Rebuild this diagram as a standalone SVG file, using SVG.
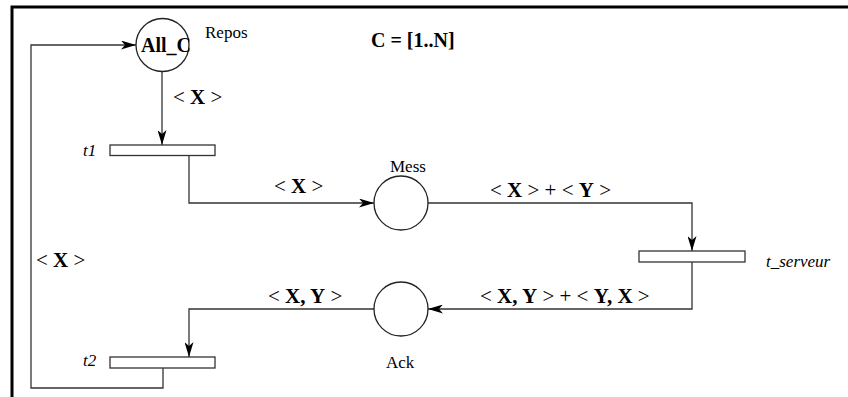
<svg xmlns="http://www.w3.org/2000/svg" width="848" height="397" viewBox="0 0 848 397">
  <defs>
    <marker id="arrow" viewBox="0 0 15 9" refX="15" refY="4.5" markerWidth="15" markerHeight="9" markerUnits="userSpaceOnUse" orient="auto">
      <path d="M0,0 L15,4.5 L0,9 L4,4.5 z" fill="#000"/>
    </marker>
  </defs>
  <style>
    .frame { stroke: #000; stroke-width: 3; fill: none; }
    .arc { stroke: #333; stroke-width: 1.3; fill: none; }
    .place { stroke: #222; stroke-width: 1.3; fill: #fff; }
    .trans { stroke: #333; stroke-width: 1.3; fill: #fff; }
    .t { font-family: "Liberation Serif", "Times New Roman", serif; fill: #000; }
    .name { font-size: 17px; }
    .it { font-size: 17px; font-style: italic; }
    .lbl { font-size: 21px; }
    .b { font-weight: bold; }
  </style>
  <rect width="848" height="397" fill="#fff"/>

  <!-- frame -->
  <path class="frame" d="M12,397 V7 H848"/>

  <!-- connectors -->
  <g id="connectors">
    <path class="arc" d="M162,72 V145" marker-end="url(#arrow)"/>
    <path class="arc" d="M189,156 V203 H374" marker-end="url(#arrow)"/>
    <path class="arc" d="M428,203 H692 V251" marker-end="url(#arrow)"/>
    <path class="arc" d="M692,262 V309 H428" marker-end="url(#arrow)"/>
    <path class="arc" d="M374,309 H189 V357" marker-end="url(#arrow)"/>
    <path class="arc" d="M163,368 V388 H31 V45 H136" marker-end="url(#arrow)"/>

    <text class="t lbl" x="173" y="104">&lt; <tspan class="b">X</tspan> &gt;</text>
    <text class="t lbl" x="274" y="193">&lt; <tspan class="b">X</tspan> &gt;</text>
    <text class="t lbl" x="490" y="197">&lt; <tspan class="b">X</tspan> &gt; + &lt; <tspan class="b">Y</tspan> &gt;</text>
    <text class="t lbl" x="480" y="303">&lt; <tspan class="b">X, Y</tspan> &gt; + &lt; <tspan class="b">Y, X</tspan> &gt;</text>
    <text class="t lbl" x="268" y="303">&lt; <tspan class="b">X, Y</tspan> &gt;</text>
    <text class="t lbl" x="36" y="267">&lt; <tspan class="b">X</tspan> &gt;</text>
  </g>

  <!-- places -->
  <g id="place-repos">
    <circle class="place" cx="162.5" cy="45" r="26.5"/>
    <text class="t b" x="141" y="52" font-size="20">All_C</text>
    <text class="t name" x="205" y="38">Repos</text>
  </g>
  <g id="place-mess">
    <circle class="place" cx="401" cy="203" r="27"/>
    <text class="t name" x="390" y="172">Mess</text>
  </g>
  <g id="place-ack">
    <circle class="place" cx="401" cy="309" r="27"/>
    <text class="t name" x="386" y="368">Ack</text>
  </g>

  <!-- transitions -->
  <g id="trans-t1">
    <rect class="trans" x="110" y="145" width="105" height="10.5"/>
    <text class="t it" x="83" y="156">t1</text>
  </g>
  <g id="trans-t-serveur">
    <rect class="trans" x="639" y="251" width="106" height="11"/>
    <text class="t it" x="766" y="267">t_serveur</text>
  </g>
  <g id="trans-t2">
    <rect class="trans" x="110" y="357" width="105" height="11"/>
    <text class="t it" x="83" y="366">t2</text>
  </g>

  <!-- colour domain -->
  <g id="domain">
    <text class="t b" x="371" y="47" font-size="20">C = [1..N]</text>
  </g>
</svg>
